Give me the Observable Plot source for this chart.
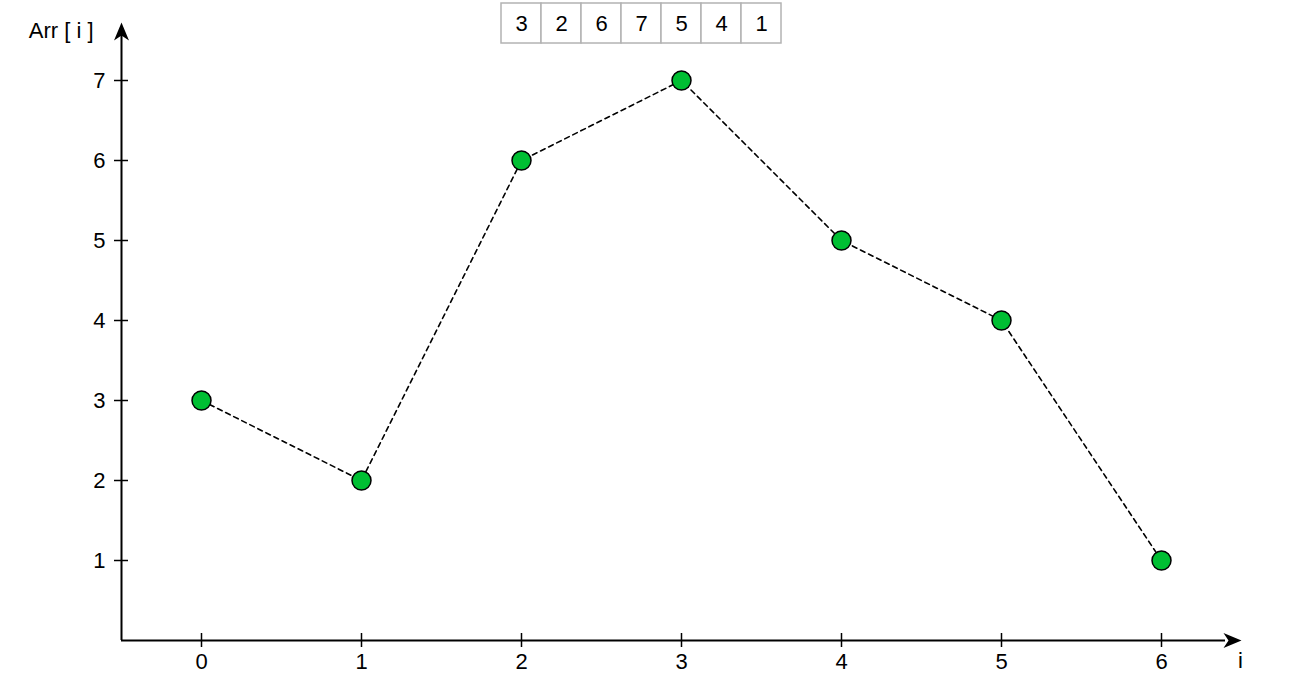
<!DOCTYPE html>
<html>
<head>
<meta charset="utf-8">
<script src="https://cdn.jsdelivr.net/npm/d3@7"></script>
<script src="https://cdn.jsdelivr.net/npm/@observablehq/plot@0.6"></script>
<style>
  html, body { margin: 0; padding: 0; background: #fff; }
  #wrap { position: relative; width: 1304px; height: 692px; font-family: "Liberation Sans", Arial, sans-serif; }
  #boxes { position: absolute; left: 500px; top: 2px; }
  #chart { position: absolute; left: 0; top: 0; }
</style>
</head>
<body>
<div id="wrap"><div id="chart"></div><div id="boxes"></div></div>
<script>
const indices = [0, 1, 2, 3, 4, 5, 6];
const values = [3, 2, 6, 7, 5, 4, 1];
const xTicks = [0, 1, 2, 3, 4, 5, 6];
const yTicks = [1, 2, 3, 4, 5, 6, 7];
const yLabel = "Arr [ i ]";
const xLabel = "i";

const data = indices.map((i, k) => ({i, v: values[k]}));

const arrowHead = {
  draw(ctx) {
    ctx.moveTo(0, 0);
    ctx.lineTo(-18, -7.5);
    ctx.lineTo(-13, 0);
    ctx.lineTo(-18, 7.5);
    ctx.closePath();
  }
};

const FS = 22;
const font = {fontFamily: "Liberation Sans, Arial, sans-serif", fontSize: FS};

const chart = Plot.plot({
  width: 1304,
  height: 692,
  marginLeft: 121,
  marginRight: 63,
  marginTop: 22,
  marginBottom: 52,
  x: {domain: [-0.5, 6.5], axis: null},
  y: {domain: [0, 7.725], axis: null},
  style: {fontFamily: "Liberation Sans, Arial, sans-serif", fontSize: FS + "px", background: "white"},
  marks: [
    Plot.ruleY([0], {x1: -0.5, x2: 6.4, stroke: "black", strokeWidth: 2}),
    Plot.ruleX([-0.5], {y1: 0, y2: 7.6, stroke: "black", strokeWidth: 2}),
    Plot.dot([{x: 6.5, y: 0}], {x: "x", y: "y", symbol: arrowHead, fill: "black", stroke: "none", r: 5}),
    Plot.dot([{x: -0.5, y: 7.725}], {x: "x", y: "y", symbol: arrowHead, fill: "black", stroke: "none", r: 5, rotate: -90}),
    Plot.ruleX(xTicks, {x: d => d, y1: 0, y2: 0, insetTop: -7, insetBottom: -7, stroke: "black", strokeWidth: 1.5}),
    Plot.ruleY(yTicks, {y: d => d, x1: -0.5, x2: -0.5, insetLeft: -7, insetRight: -7, stroke: "black", strokeWidth: 1.5}),
    Plot.text(xTicks, {x: d => d, y: 0, text: d => String(d), dy: 21, textAnchor: "middle", fill: "black", ...font}),
    Plot.text(yTicks, {x: -0.5, y: d => d, text: d => String(d), dx: -16, textAnchor: "end", fill: "black", ...font}),
    Plot.text([yLabel], {x: -0.5, y: 7.725, text: d => d, dx: -28, dy: 8, textAnchor: "end", fill: "black", ...font}),
    Plot.text([xLabel], {x: 6.5, y: 0, text: d => d, dx: -1, dy: 20, textAnchor: "middle", fill: "black", ...font}),
    Plot.line(data, {x: "i", y: "v", stroke: "black", strokeWidth: 1.6, strokeDasharray: "5,4"}),
    Plot.dot(data, {x: "i", y: "v", r: 9.5, fill: "#00BF33", stroke: "black", strokeWidth: 1.5})
  ]
});
document.getElementById("chart").appendChild(chart);

const boxes = Plot.plot({
  width: 282,
  height: 42,
  margin: 1,
  x: {domain: indices, padding: 0, axis: null},
  style: {fontFamily: "Liberation Sans, Arial, sans-serif", fontSize: FS + "px", background: "transparent"},
  marks: [
    Plot.cell(data, {x: "i", fill: "white", stroke: "#b3b3b3", strokeWidth: 1.5}),
    Plot.text(data, {x: "i", text: d => String(d.v), fill: "black", ...font})
  ]
});
document.getElementById("boxes").appendChild(boxes);
</script>
</body>
</html>
